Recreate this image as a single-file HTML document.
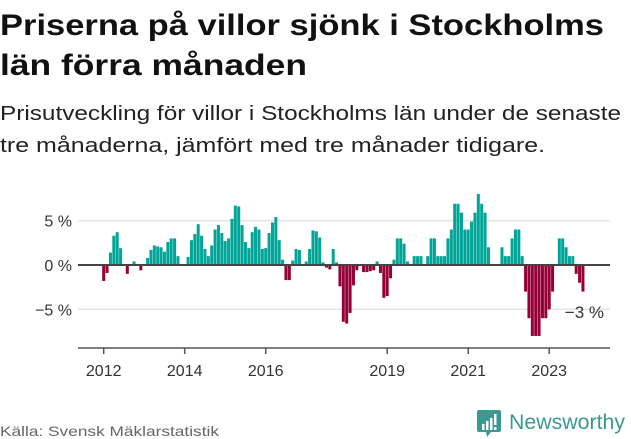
<!DOCTYPE html>
<html><head><meta charset="utf-8"><style>
html,body{margin:0;padding:0;background:#fff;}
svg{display:block;font-family:"Liberation Sans",sans-serif;}
</style></head><body>
<svg id="chart" width="631" height="439" viewBox="0 0 631 439" xmlns="http://www.w3.org/2000/svg">
<text x="0" y="35" font-size="30" font-weight="bold" fill="#111" textLength="604" lengthAdjust="spacingAndGlyphs">Priserna på villor sjönk i Stockholms</text>
<text x="0" y="75" font-size="30" font-weight="bold" fill="#111" textLength="307" lengthAdjust="spacingAndGlyphs">län förra månaden</text>
<text x="0" y="120" font-size="20" fill="#222" textLength="621" lengthAdjust="spacingAndGlyphs">Prisutveckling för villor i Stockholms län under de senaste</text>
<text x="0" y="152" font-size="20" fill="#222" textLength="545" lengthAdjust="spacingAndGlyphs">tre månaderna, jämfört med tre månader tidigare.</text>
<g id="grid"></g>
<g id="bars"></g>
<g id="axis"></g>
<text x="604" y="318" font-size="17" fill="#333" text-anchor="end">−3 %</text>
<text x="0" y="436" font-size="14" fill="#666" textLength="219" lengthAdjust="spacingAndGlyphs">Källa: Svensk Mäklarstatistik</text>
<g>
<path d="M479 410 h20 a2 2 0 0 1 2 2 v18 a2 2 0 0 1 -2 2 h-8 l-4 5 l-1 -5 h-7 a2 2 0 0 1 -2 -2 v-18 a2 2 0 0 1 2 -2z" fill="#3a9a92"/>
<rect x="482" y="424" width="2.5" height="6" fill="#fff"/><rect x="486" y="421" width="2.5" height="9" fill="#fff"/><rect x="490" y="418" width="2.5" height="12" fill="#fff"/><rect x="494" y="414" width="2.5" height="11" fill="#fff"/><rect x="494" y="427" width="2.5" height="3" fill="#fff"/>
<text x="509" y="429" font-size="21" fill="#3a9a92" textLength="116" lengthAdjust="spacingAndGlyphs">Newsworthy</text>
</g>
</svg>
<script>
const values = [-1.8,-0.9,1.4,3.3,3.7,1.9,0,-1.0,0,0.4,0,-0.6,0,0.8,1.7,2.2,2.1,2.0,1.5,2.6,3.0,3.0,1.0,0,0,0.9,2.8,3.5,4.6,3.3,1.8,1.0,2.2,4.0,4.5,3.6,2.7,3.0,5.2,6.7,6.6,4.5,2.6,1.9,3.7,4.3,4.0,1.8,1.9,3.6,4.8,5.4,2.8,0.6,-1.7,-1.7,0.5,1.8,1.7,0,0.4,1.8,3.9,3.8,3.1,0.3,-0.3,-0.5,1.8,0.3,
-2.4,-6.4,-6.6,-5.4,-2.3,-0.6,0,-0.8,-0.8,-0.7,-0.6,0.4,-0.9,-3.7,-3.5,-1.5,0.6,3.0,3.0,2.4,0.4,0,1.0,1.0,1.0,0,1.0,3.0,3.0,1.0,1.0,1.0,3.0,4.0,6.9,6.9,5.9,4.0,4.0,4.9,5.9,8.0,6.9,5.9,2.0,0,0,0,2.0,1.0,1.0,3.0,4.0,4.0,1.0,-3.0,-6.0,-8.0,-8.0,-8.0,-6.0,-6.0,-5.0,-3.0,0,3.0,3.0,2.0,1.0,1.0,-1.0,-2.0,-3.0];
const startYear = 2012;
const xTickYears = [2012,2014,2016,2019,2021,2023];
const yTicks = [5,0,-5];
const yTickLabels = ["5 %","0 %","−5 %"];
const NS="http://www.w3.org/2000/svg";
const x = m => 103.7 + m*3.375;          // m = months since Jan startYear
const y = v => 265 - v*8.87;
const grid=document.getElementById('grid'), bars=document.getElementById('bars'), axis=document.getElementById('axis');
yTicks.forEach((t,i)=>{
  if(t!==0){const l=document.createElementNS(NS,'line');
  
  
  l.setAttribute('x1',78);l.setAttribute('x2',610);l.setAttribute('y1',y(t));l.setAttribute('y2',y(t));
  l.setAttribute('stroke','#e3e3e3');l.setAttribute('stroke-width','1.5');grid.appendChild(l);}
  const tx=document.createElementNS(NS,'text');
  
  
  tx.setAttribute('x',72);tx.setAttribute('y',y(t)+6);tx.setAttribute('text-anchor','end');
  tx.setAttribute('font-size','16');tx.setAttribute('fill','#333');tx.textContent=yTickLabels[i];grid.appendChild(tx);
});
values.forEach((v,i)=>{
  if(v===0) return;
  const r=document.createElementNS(NS,'rect');
  
  
  const y0=y(0), y1=y(v);
  r.setAttribute('x',x(i)-1.5);r.setAttribute('width',3);
  r.setAttribute('y',Math.min(y0,y1));r.setAttribute('height',Math.abs(y1-y0));
  r.setAttribute('fill',v>0?'#00a598':'#960036');bars.appendChild(r);
});
const z=document.createElementNS(NS,'line');


z.setAttribute('x1',78);z.setAttribute('x2',610);z.setAttribute('y1',y(0));z.setAttribute('y2',y(0));
z.setAttribute('stroke','#444');z.setAttribute('stroke-width','2');bars.appendChild(z);
const ax=document.createElementNS(NS,'line');


ax.setAttribute('x1',78);ax.setAttribute('x2',610);ax.setAttribute('y1',348);ax.setAttribute('y2',348);
ax.setAttribute('stroke','#555');ax.setAttribute('stroke-width','1.5');axis.appendChild(ax);
xTickYears.forEach(yr=>{
  const px=x((yr-startYear)*12);
  const t=document.createElementNS(NS,'line');
  
  
  t.setAttribute('x1',px);t.setAttribute('x2',px);t.setAttribute('y1',348);t.setAttribute('y2',354);
  t.setAttribute('stroke','#555');t.setAttribute('stroke-width','1.5');axis.appendChild(t);
  const tx=document.createElementNS(NS,'text');
  
  
  tx.setAttribute('x',px);tx.setAttribute('y',376);tx.setAttribute('text-anchor','middle');
  tx.setAttribute('font-size','16');tx.setAttribute('fill','#333');tx.textContent=yr;axis.appendChild(tx);
});
</script>
</body></html>
